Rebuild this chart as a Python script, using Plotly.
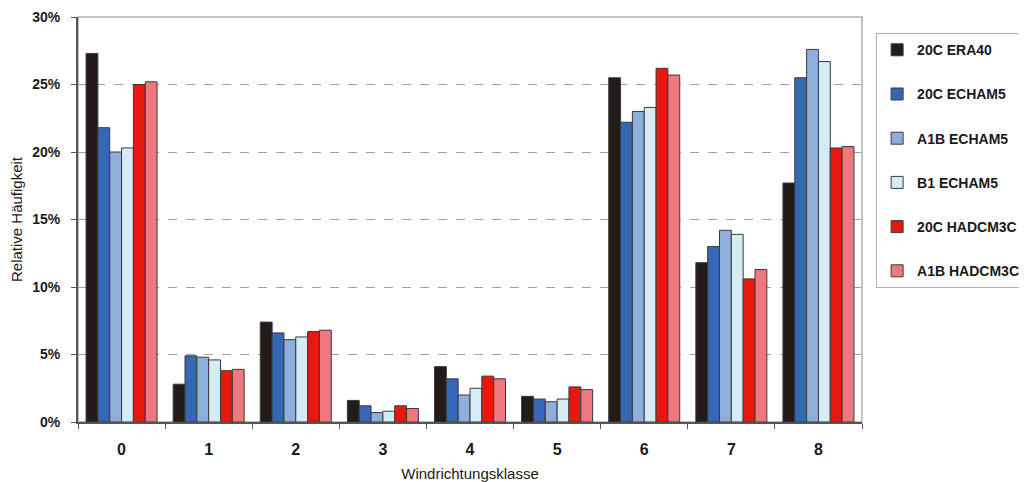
import plotly.graph_objects as go

classes = ["0", "1", "2", "3", "4", "5", "6", "7", "8"]

era40_20c = [27.3, 2.8, 7.4, 1.6, 4.1, 1.9, 25.5, 11.8, 17.7]
echam5_20c = [21.8, 4.9, 6.6, 1.2, 3.2, 1.7, 22.2, 13.0, 25.5]
echam5_a1b = [20.0, 4.8, 6.1, 0.7, 2.0, 1.5, 23.0, 14.2, 27.6]
echam5_b1 = [20.3, 4.6, 6.3, 0.8, 2.5, 1.7, 23.3, 13.9, 26.7]
hadcm3c_20c = [25.0, 3.8, 6.7, 1.2, 3.4, 2.6, 26.2, 10.6, 20.3]
hadcm3c_a1b = [25.2, 3.9, 6.8, 1.0, 3.2, 2.4, 25.7, 11.3, 20.4]

series = [
    ("20C ERA40", era40_20c, "#231a1a"),
    ("20C ECHAM5", echam5_20c, "#3467b4"),
    ("A1B ECHAM5", echam5_a1b, "#8eafdc"),
    ("B1 ECHAM5", echam5_b1, "#d4ecf5"),
    ("20C HADCM3C", hadcm3c_20c, "#e8180f"),
    ("A1B HADCM3C", hadcm3c_a1b, "#ee7880"),
]

fig = go.Figure()
for i, (name, vals, col) in enumerate(series):
    fig.add_trace(go.Bar(
        x=classes, y=vals, name=name, legendgroup=str(i),
        marker=dict(color=col, line=dict(color="#3a3a3a", width=1)),
    ))

# grey frame on top and right of the plot area
fig.add_shape(type="rect", xref="paper", yref="paper", x0=0, x1=1, y0=0, y1=1,
              line=dict(color="#b0b0b0", width=1.5), layer="below")

# page body has an 8px margin, so the figure is 8px smaller than the window
fig.update_layout(
    width=1019, height=474,
    margin=dict(l=70, r=165, t=9, b=60, autoexpand=False),
    paper_bgcolor="white", plot_bgcolor="white",
    barmode="group", bargap=0.185, bargroupgap=0,
    font=dict(family="Liberation Sans, Arial", color="#1a1a1a"),
    showlegend=True,
    legend=dict(
        x=1.018, y=0.96, xanchor="left", yanchor="top",
        bordercolor="#b0b0b0", borderwidth=1,
        font=dict(size=14, weight="bold"), tracegroupgap=23,
        itemwidth=30,
    ),
)
fig.update_xaxes(
    type="category", tickson="boundaries", ticks="outside", ticklen=5,
    tickcolor="#555", showline=True, linecolor="#555", linewidth=2,
    tickfont=dict(size=16, weight="bold"),
    ticklabelstandoff=12, automargin=False,
    title=dict(text="Windrichtungsklasse", font=dict(size=15), standoff=14),
)
fig.update_yaxes(
    range=[0, 30], tickvals=[0, 5, 10, 15, 20, 25, 30],
    ticktext=["0%", "5%", "10%", "15%", "20%", "25%", "30%"],
    ticks="outside", ticklen=5, tickcolor="#555",
    showline=True, linecolor="#555", linewidth=2,
    showgrid=True, gridcolor="#a0a0a0", griddash="dash", gridwidth=1.2,
    zeroline=False, automargin=False,
    tickfont=dict(size=14, weight="bold"),
    ticklabelstandoff=8,
    title=dict(text="Relative Häufigkeit", font=dict(size=15), standoff=6),
)

fig.write_html("out.html")
